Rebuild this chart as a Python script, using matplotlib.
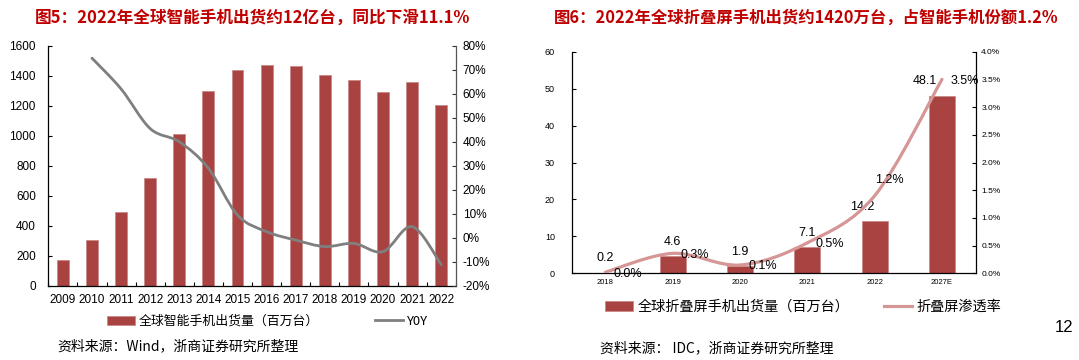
import matplotlib
matplotlib.use("Agg")
import matplotlib.pyplot as plt
import numpy as np
from matplotlib.path import Path
from matplotlib.patches import PathPatch, Patch
from matplotlib.lines import Line2D
from matplotlib.ticker import FuncFormatter, MultipleLocator

# 图5 数据
years5 = ['2009', '2010', '2011', '2012', '2013', '2014', '2015', '2016',
          '2017', '2018', '2019', '2020', '2021', '2022']
shipments5 = [174, 304, 494, 722, 1010, 1300, 1437, 1473, 1462, 1405, 1371, 1292, 1355, 1205]
yoy5 = [None, 74.8, 62.0, 45.5, 40.0, 29.0, 9.5, 2.6, -0.9, -3.6, -2.3, -5.7, 4.7, -11.1]

# 图6 数据
years6 = ['2018', '2019', '2020', '2021', '2022', '2027E']
shipments6 = [0.2, 4.6, 1.9, 7.1, 14.2, 48.1]
share6 = [0.02, 0.36, 0.15, 0.55, 1.4, 3.5]
share6_labels = ['0.0%', '0.3%', '0.1%', '0.5%', '1.2%', '3.5%']

CJK = ['Noto Sans CJK SC', 'DejaVu Sans']
NUM = ['Liberation Sans', 'DejaVu Sans']
BAR = '#A84341'
BAR_EDGE = '#C98A89'
TITLE_RED = '#C00000'

plt.rcParams['font.family'] = CJK
plt.rcParams['axes.unicode_minus'] = False


def smooth_path(xs, ys):
    # Catmull-Rom 曲线 -> 贝塞尔控制点（类似 Excel 平滑线）
    pts = np.column_stack([xs, ys]).astype(float)
    n = len(pts)
    verts = [pts[0]]
    codes = [Path.MOVETO]
    for i in range(n - 1):
        p0 = pts[i - 1] if i > 0 else pts[i]
        p1 = pts[i]
        p2 = pts[i + 1]
        p3 = pts[i + 2] if i + 2 < n else pts[i + 1]
        c1 = p1 + (p2 - p0) / 6.0
        c2 = p2 - (p3 - p1) / 6.0
        verts += [c1, c2, p2]
        codes += [Path.CURVE4] * 3
    return Path(verts, codes)


fig = plt.figure(figsize=(10.79, 3.6), dpi=100)

# ---------------- 图5 ----------------
ax1 = fig.add_axes([0.0448, 0.2056, 0.3776, 0.6675])
x5 = np.arange(len(years5))
ax1.bar(x5, shipments5, width=0.41, color=BAR, edgecolor=BAR_EDGE, linewidth=0.6, zorder=2)
ax1.set_xlim(-0.5, len(years5) - 0.5)
ax1.set_ylim(0, 1600)
ax1.yaxis.set_major_locator(MultipleLocator(200))
ax1.set_xticks(x5)
ax1.set_xticklabels(years5, fontsize=8.5, family=NUM)
ax1.set_xticks(np.arange(-0.5, len(years5), 1), minor=True)
ax1.tick_params(axis='x', which='major', length=0, pad=6)
ax1.tick_params(axis='x', which='minor', direction='in', length=3, width=0.8)
ax1.tick_params(axis='y', direction='in', length=3, width=0.8, labelsize=8.5, pad=9)
for lb in ax1.get_yticklabels():
    lb.set_family(NUM)
ax1.spines['top'].set_visible(False)
ax1.spines['right'].set_visible(False)
for s in ['left', 'bottom']:
    ax1.spines[s].set_linewidth(0.9)

ax1b = ax1.twinx()
ax1b.set_ylim(-20, 80)
ax1b.yaxis.set_major_locator(MultipleLocator(10))
ax1b.yaxis.set_major_formatter(FuncFormatter(lambda v, p: f'{v:.0f}%'))
ax1b.tick_params(axis='y', direction='in', length=3, width=0.8, labelsize=8.5, pad=5,
                 colors='#333333', labelcolor='black')
for lb in ax1b.get_yticklabels():
    lb.set_family(NUM)
for s in ['top', 'left', 'bottom']:
    ax1b.spines[s].set_visible(False)
ax1b.spines['right'].set_color('#555555')
ax1b.spines['right'].set_linewidth(0.9)
yx = [x for x, v in zip(x5, yoy5) if v is not None]
yv = [v for v in yoy5 if v is not None]
ax1b.add_patch(PathPatch(smooth_path(yx, yv), facecolor='none', edgecolor='#7F7F7F',
                         linewidth=2.0, zorder=3, capstyle='round'))

fig.text(0.0325, 0.952, '图5：2022年全球智能手机出货约12亿台，同比下滑11.1%',
         color=TITLE_RED, fontsize=12, fontweight='bold', va='center', ha='left')

h1 = [Patch(facecolor=BAR, edgecolor=BAR_EDGE, linewidth=0.6),
      Line2D([0], [0], color='#7F7F7F', linewidth=2.0)]
fig.legend(h1, ['全球智能手机出货量（百万台）', 'Y0Y'], loc='center left',
           bbox_to_anchor=(0.088, 0.108), ncol=2, frameon=False, fontsize=9.3,
           handlelength=2.2, handleheight=0.7, handletextpad=0.3, columnspacing=4.3)

fig.text(0.053, 0.038, '资料来源：Wind，浙商证券研究所整理', fontsize=10, va='center', ha='left')

# ---------------- 图6 ----------------
ax2 = fig.add_axes([0.5298, 0.2408, 0.3744, 0.6156])
x6 = np.arange(len(years6))
ax2.bar(x6, shipments6, width=0.39, color=BAR, edgecolor=BAR_EDGE, linewidth=0.6, zorder=2)
ax2.set_xlim(-0.5, len(years6) - 0.5)
ax2.set_ylim(0, 60)
ax2.yaxis.set_major_locator(MultipleLocator(10))
ax2.set_xticks(x6)
ax2.set_xticklabels(years6, fontsize=5.5, family=NUM)
ax2.tick_params(axis='x', length=0, pad=4)
ax2.tick_params(axis='y', direction='in', length=3, width=0.8, labelsize=6.5, pad=12)
for lb in ax2.get_yticklabels():
    lb.set_family(NUM)
ax2.spines['top'].set_visible(False)
ax2.spines['right'].set_visible(False)
for s in ['left', 'bottom']:
    ax2.spines[s].set_linewidth(0.9)

# 数据标签偏移（点），大柱子的标签向左挪开以避开曲线
bar_label_dx = [0, 0, 0, 0, -9, -12]
pct_label_off = [(6, -1), (6, -1), (6, -1), (6, -1), (0, 11), (6, -1)]
for xi, v, dx in zip(x6, shipments6, bar_label_dx):
    ax2.annotate(f'{v:.1f}', (xi, v), xytext=(dx, 6), textcoords='offset points',
                 ha='center', va='bottom', fontsize=9, family=NUM)

ax2b = ax2.twinx()
ax2b.set_ylim(0, 4.0)
ax2b.yaxis.set_major_locator(MultipleLocator(0.5))
ax2b.yaxis.set_major_formatter(FuncFormatter(lambda v, p: f'{v:.1f}%'))
ax2b.tick_params(axis='y', direction='in', length=3, width=0.8, labelsize=6, pad=4)
for lb in ax2b.get_yticklabels():
    lb.set_family(NUM)
for s in ['top', 'left', 'bottom']:
    ax2b.spines[s].set_visible(False)
ax2b.spines['right'].set_linewidth(0.9)
ax2b.add_patch(PathPatch(smooth_path(x6, share6), facecolor='none', edgecolor='#D69696',
                         linewidth=2.3, zorder=3, capstyle='round'))
for xi, v, t, off in zip(x6, share6, share6_labels, pct_label_off):
    ax2b.annotate(t, (xi, v), xytext=off, textcoords='offset points',
                  ha='left', va='center', fontsize=9, family=NUM)

fig.text(0.5135, 0.952, '图6：2022年全球折叠屏手机出货约1420万台，占智能手机份额1.2%',
         color=TITLE_RED, fontsize=11.8, fontweight='bold', va='center', ha='left')

h2 = [Patch(facecolor=BAR, edgecolor=BAR_EDGE, linewidth=0.6),
      Line2D([0], [0], color='#D69696', linewidth=2.3)]
fig.legend(h2, ['全球折叠屏手机出货量（百万台）', '折叠屏渗透率'], loc='center left',
           bbox_to_anchor=(0.549, 0.147), ncol=2, frameon=False, fontsize=10.2,
           handlelength=2.0, handleheight=0.7, handletextpad=0.3, columnspacing=2.4)

fig.text(0.556, 0.032, '资料来源： IDC，浙商证券研究所整理', fontsize=10, va='center', ha='left')
fig.text(0.995, 0.09, '12', fontsize=12, va='center', ha='right', family=NUM)

fig.savefig('out.png', dpi=100)
